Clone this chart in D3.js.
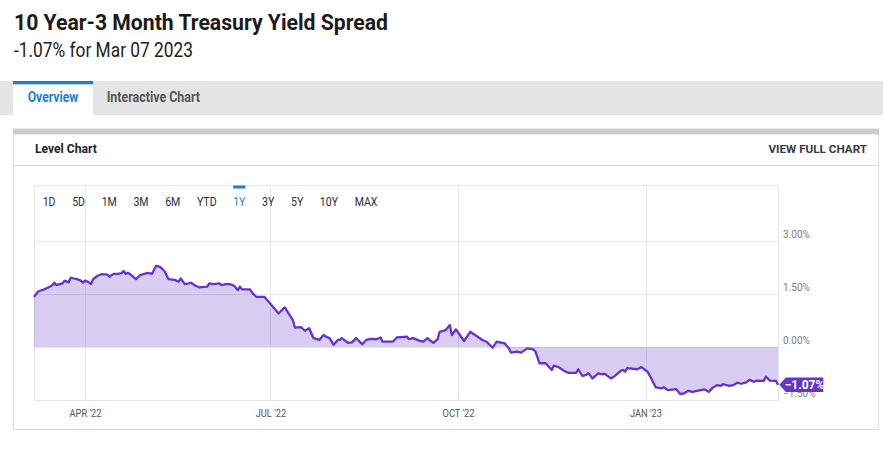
<!DOCTYPE html>
<html><head><meta charset="utf-8">
<script src="https://cdn.jsdelivr.net/npm/d3@7"></script>
<style>
body{margin:0;background:#fff;}
svg{display:block;font-family:Roboto,"Noto Sans",sans-serif;}
</style></head><body>
<svg id="c" width="883" height="449"></svg>
<script>
// ---- data ----
const dates = ["2022-03-07","2022-03-09","2022-03-12","2022-03-15","2022-03-16","2022-03-17","2022-03-18","2022-03-21","2022-03-22","2022-03-24","2022-03-25","2022-03-28","2022-03-30","2022-03-31","2022-04-01","2022-04-03","2022-04-04","2022-04-05","2022-04-07","2022-04-09","2022-04-12","2022-04-13","2022-04-15","2022-04-17","2022-04-19","2022-04-20","2022-04-21","2022-04-22","2022-04-23","2022-04-26","2022-04-28","2022-04-30","2022-05-02","2022-05-04","2022-05-05","2022-05-06","2022-05-08","2022-05-10","2022-05-12","2022-05-15","2022-05-17","2022-05-18","2022-05-20","2022-05-22","2022-05-23","2022-05-25","2022-05-27","2022-05-31","2022-06-01","2022-06-03","2022-06-06","2022-06-07","2022-06-09","2022-06-11","2022-06-13","2022-06-15","2022-06-16","2022-06-17","2022-06-21","2022-06-22","2022-06-24","2022-06-28","2022-07-02","2022-07-05","2022-07-07","2022-07-08","2022-07-12","2022-07-13","2022-07-16","2022-07-18","2022-07-20","2022-07-22","2022-07-25","2022-07-27","2022-07-29","2022-07-30","2022-08-01","2022-08-03","2022-08-04","2022-08-05","2022-08-08","2022-08-10","2022-08-12","2022-08-15","2022-08-17","2022-08-19","2022-08-22","2022-08-24","2022-08-25","2022-08-30","2022-09-01","2022-09-06","2022-09-07","2022-09-09","2022-09-12","2022-09-14","2022-09-16","2022-09-17","2022-09-19","2022-09-21","2022-09-22","2022-09-25","2022-09-27","2022-09-28","2022-09-30","2022-10-04","2022-10-07","2022-10-13","2022-10-15","2022-10-18","2022-10-20","2022-10-24","2022-10-26","2022-10-27","2022-10-30","2022-11-01","2022-11-04","2022-11-07","2022-11-08","2022-11-10","2022-11-13","2022-11-16","2022-11-17","2022-11-19","2022-11-22","2022-11-24","2022-11-28","2022-11-29","2022-12-01","2022-12-03","2022-12-04","2022-12-06","2022-12-09","2022-12-10","2022-12-12","2022-12-15","2022-12-17","2022-12-20","2022-12-21","2022-12-22","2022-12-23","2022-12-28","2022-12-30","2023-01-02","2023-01-04","2023-01-06","2023-01-09","2023-01-10","2023-01-12","2023-01-15","2023-01-16","2023-01-18","2023-01-20","2023-01-22","2023-01-24","2023-01-28","2023-01-30","2023-02-01","2023-02-03","2023-02-05","2023-02-07","2023-02-08","2023-02-11","2023-02-13","2023-02-15","2023-02-17","2023-02-19","2023-02-21","2023-02-23","2023-02-25","2023-02-28","2023-03-01","2023-03-03","2023-03-06","2023-03-07"];
const spread = [1.42,1.57,1.63,1.71,1.75,1.82,1.75,1.80,1.88,1.83,1.96,1.92,1.88,1.82,1.88,1.83,1.78,1.92,2.01,2.06,2.05,1.99,2.07,2.07,2.09,2.15,2.07,2.10,2.07,1.92,2.03,2.07,2.10,2.07,2.20,2.30,2.26,2.15,1.92,1.90,1.85,1.94,1.78,1.80,1.82,1.74,1.69,1.71,1.80,1.78,1.80,1.75,1.78,1.78,1.74,1.61,1.71,1.63,1.63,1.54,1.42,1.42,1.15,0.95,1.07,1.12,0.76,0.55,0.56,0.46,0.53,0.26,0.20,0.34,0.27,0.25,0.06,0.20,0.20,0.25,0.12,0.13,0.25,0.08,0.20,0.23,0.22,0.27,0.15,0.15,0.27,0.29,0.22,0.25,0.18,0.15,0.25,0.20,0.12,0.22,0.43,0.48,0.62,0.34,0.50,0.17,0.43,0.20,0.15,-0.02,0.15,0.10,-0.04,-0.16,-0.13,-0.16,-0.04,-0.07,-0.13,-0.46,-0.46,-0.65,-0.53,-0.56,-0.67,-0.73,-0.73,-0.63,-0.82,-0.79,-0.74,-0.89,-0.74,-0.77,-0.76,-0.89,-0.82,-0.67,-0.65,-0.70,-0.60,-0.63,-0.57,-0.70,-0.91,-1.14,-1.17,-1.14,-1.22,-1.20,-1.19,-1.33,-1.31,-1.24,-1.27,-1.22,-1.20,-1.27,-1.15,-1.08,-1.10,-1.05,-1.10,-1.08,-1.01,-1.04,-1.01,-0.93,-0.98,-0.95,-0.96,-0.84,-0.95,-0.96,-1.07];
const yTicks = [-1.5, 0, 1.5, 3.0];
const xTicks = ["2022-04-01","2022-07-01","2022-10-01","2023-01-01"];
const ranges = ["1D","5D","1M","3M","6M","YTD","1Y","3Y","5Y","10Y","MAX"];
const activeRange = "1Y";
const titleText = "10 Year-3 Month Treasury Yield Spread";
const subtitleText = "-1.07% for Mar 07 2023";
const tabs = ["Overview","Interactive Chart"];

// ---- drawing ----
const svg = d3.select("#c");
const parse = d3.timeParse("%Y-%m-%d");
const data = dates.map((d,i)=>({date:parse(d), v:spread[i]}));

function fit(sel, w){ sel.attr("textLength", w).attr("lengthAdjust","spacingAndGlyphs"); return sel; }
function condense(sel, k){ sel.each(function(){ const l=this.getComputedTextLength(); d3.select(this).attr("textLength", l*k).attr("lengthAdjust","spacingAndGlyphs"); }); return sel; }

// header
fit(svg.append("text").attr("x",14).attr("y",29.5).attr("font-size",22.5).attr("font-weight",700).attr("fill","#1b1b1b").text(titleText),374);
fit(svg.append("text").attr("x",14).attr("y",57.3).attr("font-size",19.5).attr("fill","#222").text(subtitleText),179);

// tabs
svg.append("rect").attr("x",0).attr("y",81).attr("width",883).attr("height",34).attr("fill","#e5e5e5");
svg.append("rect").attr("x",13).attr("y",81).attr("width",80).attr("height",34).attr("fill","#fff");
svg.append("rect").attr("x",13).attr("y",81).attr("width",80).attr("height",3.3).attr("fill","#1a7fd9");
fit(svg.append("text").attr("x",27.7).attr("y",101.7).attr("font-size",14).attr("font-weight",700).attr("fill","#1a7fd9").text(tabs[0]),50.6);
fit(svg.append("text").attr("x",106.7).attr("y",101.7).attr("font-size",14).attr("font-weight",700).attr("fill","#555").text(tabs[1]),93.3);

// panel
svg.append("rect").attr("x",13.5).attr("y",129).attr("width",865).attr("height",300.5).attr("fill","#fff").attr("stroke","#dcdcdc");
svg.append("rect").attr("x",13).attr("y",129).attr("width",866).attr("height",5.3).attr("fill","#cccccc");
svg.append("line").attr("x1",13).attr("x2",879).attr("y1",165.5).attr("y2",165.5).attr("stroke","#dcdcdc");
fit(svg.append("text").attr("x",34.9).attr("y",153.3).attr("font-size",13).attr("font-weight",700).attr("fill","#1e1e2a").text("Level Chart"),62);
fit(svg.append("text").attr("x",867).attr("y",153.3).attr("text-anchor","end").attr("font-size",11.5).attr("font-weight",700).attr("fill","#3a3a44").text("VIEW FULL CHART"),98.5);

// scales
const x = d3.scaleTime().domain([parse("2022-03-07"), parse("2023-03-07")]).range([34,778]);
const y = d3.scaleLinear().domain([-1.5,3.0]).range([400,241]);
const boxTop = 185.5;

// grid
const grid = svg.append("g").attr("stroke","#e6e6e6").attr("stroke-width",1);
grid.selectAll("line.h").data(yTicks).join("line").attr("class","h")
  .attr("x1",34).attr("x2",778).attr("y1",d=>Math.round(y(d))+0.5).attr("y2",d=>Math.round(y(d))+0.5);
grid.selectAll("line.v").data(xTicks.map(parse)).join("line").attr("class","v")
  .attr("x1",d=>Math.round(x(d))+0.5).attr("x2",d=>Math.round(x(d))+0.5).attr("y1",boxTop).attr("y2",400.5);
grid.append("line").attr("x1",34.5).attr("x2",34.5).attr("y1",boxTop).attr("y2",400.5);
grid.append("line").attr("x1",778.5).attr("x2",778.5).attr("y1",boxTop).attr("y2",400.5);
grid.append("line").attr("x1",34).attr("x2",778).attr("y1",boxTop).attr("y2",boxTop);

// area + line
svg.append("path").datum(data)
  .attr("d", d3.area().x(d=>x(d.date)).y0(y(0)).y1(d=>y(d.v)))
  .attr("fill","rgba(106,63,200,0.26)");
svg.append("path").datum(data)
  .attr("d", d3.line().x(d=>x(d.date)).y(d=>y(d.v)))
  .attr("fill","none").attr("stroke","#6633cc").attr("stroke-width",2.3).attr("stroke-linejoin","round");

// range buttons
let bx = 42.7;
const btn = svg.append("g");
ranges.forEach(r=>{
  const t = btn.append("text").attr("x",bx).attr("y",205.5).attr("font-size",12)
    .attr("fill", r===activeRange ? "#1a7fd9" : "#2d2d3a").text(r);
  condense(t,0.88);
  const w = +t.attr("textLength");
  if(r===activeRange){
    btn.append("rect").attr("x",bx).attr("y",185.5).attr("width",w).attr("height",3).attr("fill","#1a7fd9");
  }
  bx += w + 16.6;
});

// y axis
const yAxis = svg.append("g").attr("transform","translate(783,0)")
  .call(d3.axisRight(y).tickValues(yTicks).tickSize(0).tickPadding(0).tickFormat(d=>d3.format(".2f")(d)+"%"));
yAxis.select(".domain").remove();
yAxis.selectAll("text").attr("dy",null).attr("y",-3.7).attr("font-size",10).attr("font-family","Roboto").attr("fill","#7a7f88");

// x axis
const xAxis = svg.append("g").attr("transform","translate(0,400)")
  .call(d3.axisBottom(x).tickValues(xTicks.map(parse)).tickSize(0).tickPadding(0)
    .tickFormat(d=>d3.timeFormat("%b '%y")(d).toUpperCase()));
xAxis.select(".domain").remove();
xAxis.selectAll("text").attr("dy",null).attr("y",16.7).attr("font-size",10.5).attr("font-family","Roboto").attr("fill","#555");
condense(xAxis.selectAll("text"),0.88);

// last value badge
const last = data[data.length-1];
const by = y(last.v);
const bw = svg.append("g").attr("transform",`translate(779.3,${by})`);
bw.append("path").attr("d","M0,0 L6.5,-7.3 L44,-7.3 L44,7.3 L6.5,7.3 Z").attr("fill","#6633cc");
bw.append("text").attr("x",25.2).attr("y",4.3).attr("text-anchor","middle").attr("font-size",12).attr("font-weight",700).attr("fill","#fff")
  .text(d3.format(".2f")(last.v)+"%");
</script>
</body></html>
